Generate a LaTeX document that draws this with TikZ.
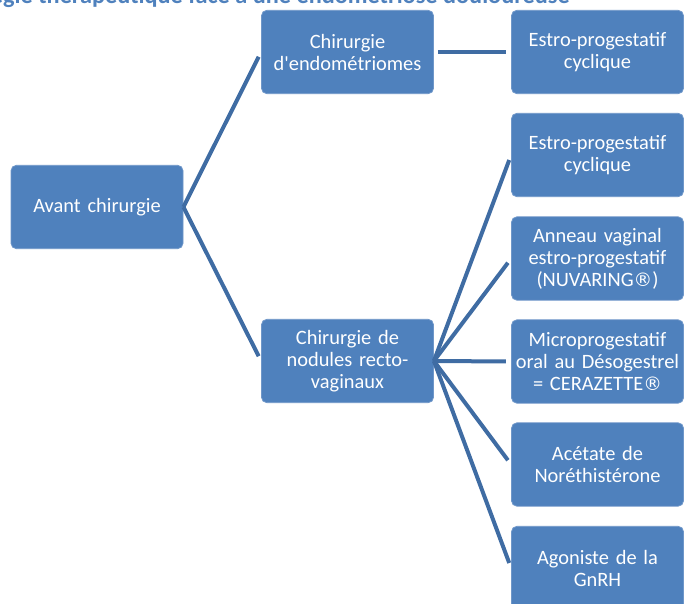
\documentclass[tikz,border=0pt]{standalone}
\usepackage{fontspec}
\setmainfont{Carlito}
\newfontfamily\symfont{DejaVu Sans}
\newcommand{\regmark}{{\symfont\fontsize{14}{16.5}\selectfont ®}}
\definecolor{accent}{HTML}{4F81BD}
\definecolor{boxline}{HTML}{6F97C9}
\definecolor{conn}{HTML}{3F6CA3}
\begin{document}
\begin{tikzpicture}[x=0.75pt,y=-0.75pt,
  box/.style={fill=accent,draw=boxline,line width=0.6pt,rounded corners=4pt,
    minimum width=129pt,minimum height=62.5pt,text width=127pt,align=center,
    text=white,inner sep=0pt,font=\fontsize{15.3}{16.5}\selectfont},
  conn/.style={draw=conn,line width=3pt},
  title/.style={text=accent,font=\bfseries\fontsize{18.2}{20}\selectfont,inner sep=0pt}]
\useasboundingbox (0,0) rectangle (684,603);
\clip (0,0) rectangle (684,603);
\node[title,anchor=base east] (t) at (570,3.5) {Stratégie thérapeutique face à une endométriose douloureuse};
\node[box] (avant) at (97,207) {Avant chirurgie};
\node[box] (endo) at (347.5,52) {Chirurgie\\d\textquotesingle endométriomes};
\node[box] (nod) at (347.5,361) {Chirurgie de\\nodules recto-\\vaginaux};
\node[box] (r1) at (597.5,52) {Estro-progestatif\\cyclique};
\node[box] (r2) at (597.5,155) {Estro-progestatif\\cyclique};
\node[box] (r3) at (597.5,258.5) {Anneau vaginal\\estro-progestatif\\(NUVARING\regmark)};
\node[box] (r4) at (597.5,361.5) {Microprogestatif\\oral au Désogestrel\\= CERAZETTE\regmark};
\node[box] (r5) at (597.5,464.5) {Acétate de\\Noréthistérone};
\node[box] (r6) at (597.5,568) {Agoniste de la\\GnRH};
\draw[conn,shorten >=4pt] (avant.east) -- (endo.west);
\draw[conn,shorten >=4pt] (avant.east) -- (nod.west);
\draw[conn,shorten <=3pt,shorten >=4pt] (endo.east) -- (r1.west);
\foreach \r in {r2,r3,r4,r5,r6}
  \draw[conn,shorten >=4pt] (nod.east) -- (\r.west);
\end{tikzpicture}
\end{document}
